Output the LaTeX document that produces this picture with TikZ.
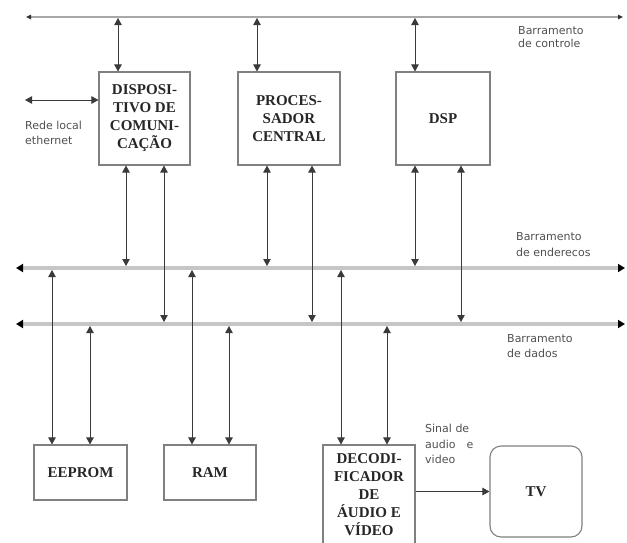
\documentclass[tikz,border=0pt]{standalone}
\usepackage{fontspec}
\setmainfont{Liberation Serif}
\newfontfamily\lblfont{DejaVu Sans}
\usetikzlibrary{arrows.meta}
\definecolor{busgray}{HTML}{C6C6C6}
\definecolor{topbus}{HTML}{A8A8A8}
\definecolor{boxgray}{HTML}{808080}
\definecolor{arrgray}{HTML}{3A3A3A}
\definecolor{lblgray}{HTML}{505050}
\begin{document}
\begin{tikzpicture}[x=1pt,y=-1pt,
  box/.style={draw=boxgray, line width=1.1pt, inner sep=0pt, align=center,
    font=\bfseries\fontsize{15}{18}\selectfont, text=black!85},
  lbl/.style={anchor=north west, align=left, inner sep=0pt,
    font=\lblfont\fontsize{11}{15}\selectfont, text=lblgray},
  tip/.tip={Triangle[length=7pt,width=7.5pt]},
  bustip/.tip={Triangle[length=7pt,width=8pt,color=black]},
  smalltip/.tip={Triangle[length=5pt,width=4.5pt,color=black!80]},
  conn/.style={draw=arrgray, line width=0.8pt},
  dbl/.style={conn, tip-tip},
  one/.style={conn, -tip},
  bus/.style={draw=busgray, line width=3.5pt, bustip-bustip},
  tbus/.style={draw=topbus, line width=2pt, smalltip-smalltip}
]
\useasboundingbox (0,0) rectangle (627,542);

% buses
\coordinate (cL) at (26,17);  \coordinate (cR) at (623,17);
\coordinate (aL) at (16,268); \coordinate (aR) at (625,268);
\coordinate (dL) at (16,324); \coordinate (dR) at (625,324);
\draw[tbus] (cL) -- (cR);
\draw[bus] (aL) -- (aR);
\draw[bus] (dL) -- (dR);

% boxes
\node[box, minimum width=91pt, minimum height=93pt] (disp) at (144.5,118.5) {DISPOSI-\\TIVO DE\\COMUNI-\\CAÇÃO};
\node[box, minimum width=102pt, minimum height=93pt] (proc) at (289,118.5) {PROCES-\\SADOR\\CENTRAL};
\node[box, minimum width=94pt, minimum height=93pt] (dsp) at (443,118.5) {DSP};
\node[box, minimum width=93pt, minimum height=55pt] (eeprom) at (80.5,472.5) {EEPROM};
\node[box, minimum width=92pt, minimum height=55pt] (ram) at (210,472.5) {RAM};
\node[box, minimum width=92pt, minimum height=100pt] (dec) at (369,495) {DECODI-\\FICADOR\\DE\\ÁUDIO E\\VÍDEO};
\node[box, rounded corners=11pt, minimum width=92pt, minimum height=91pt] (tv) at (536,491.5) {TV};

% bus attachment points
\coordinate (c1) at (118,18); \coordinate (c2) at (257,18); \coordinate (c3) at (415,18);
\coordinate (a1) at (126,266); \coordinate (a2) at (267,266); \coordinate (a3) at (415,266);
\coordinate (d1) at (164,322); \coordinate (d2) at (312,322); \coordinate (d3) at (461,322);
\coordinate (a4) at (52,270); \coordinate (a5) at (192,270); \coordinate (a6) at (341,270);
\coordinate (d4) at (90,326); \coordinate (d5) at (229,326); \coordinate (d6) at (387,326);
\coordinate (eth) at (25,100);

% control bus connections
\draw[dbl] (c1) -- (c1 |- disp.north);
\draw[dbl] (c2) -- (c2 |- proc.north);
\draw[dbl] (c3) -- (c3 |- dsp.north);

% upper boxes to address/data buses
\draw[dbl] (a1 |- disp.south) -- (a1);
\draw[dbl] (d1 |- disp.south) -- (d1);
\draw[dbl] (a2 |- proc.south) -- (a2);
\draw[dbl] (d2 |- proc.south) -- (d2);
\draw[dbl] (a3 |- dsp.south) -- (a3);
\draw[dbl] (d3 |- dsp.south) -- (d3);

% lower boxes
\draw[dbl] (a4) -- (a4 |- eeprom.north);
\draw[dbl] (d4) -- (d4 |- eeprom.north);
\draw[dbl] (a5) -- (a5 |- ram.north);
\draw[dbl] (d5) -- (d5 |- ram.north);
\draw[dbl] (a6) -- (a6 |- dec.north);
\draw[dbl] (d6) -- (d6 |- dec.north);

% ethernet and TV
\draw[dbl] (eth) -- (eth -| disp.west);
\draw[one] (dec.east |- tv.west) -- (tv.west);

% labels
\node[lbl, font=\lblfont\fontsize{11}{13}\selectfont] (lc) at (518,26) {Barramento\\de controle};
\node[lbl, font=\lblfont\fontsize{11}{16}\selectfont] (la) at (516,232) {Barramento\\de enderecos};
\node[lbl] (ld) at (507,334) {Barramento\\de dados};
\node[lbl] (le) at (25,121) {Rede local\\ethernet};
\node[lbl, font=\lblfont\fontsize{11}{15.5}\selectfont] (ls) at (425,424) {Sinal de\\audio\hspace{1em}e\\video};
\end{tikzpicture}
\end{document}
